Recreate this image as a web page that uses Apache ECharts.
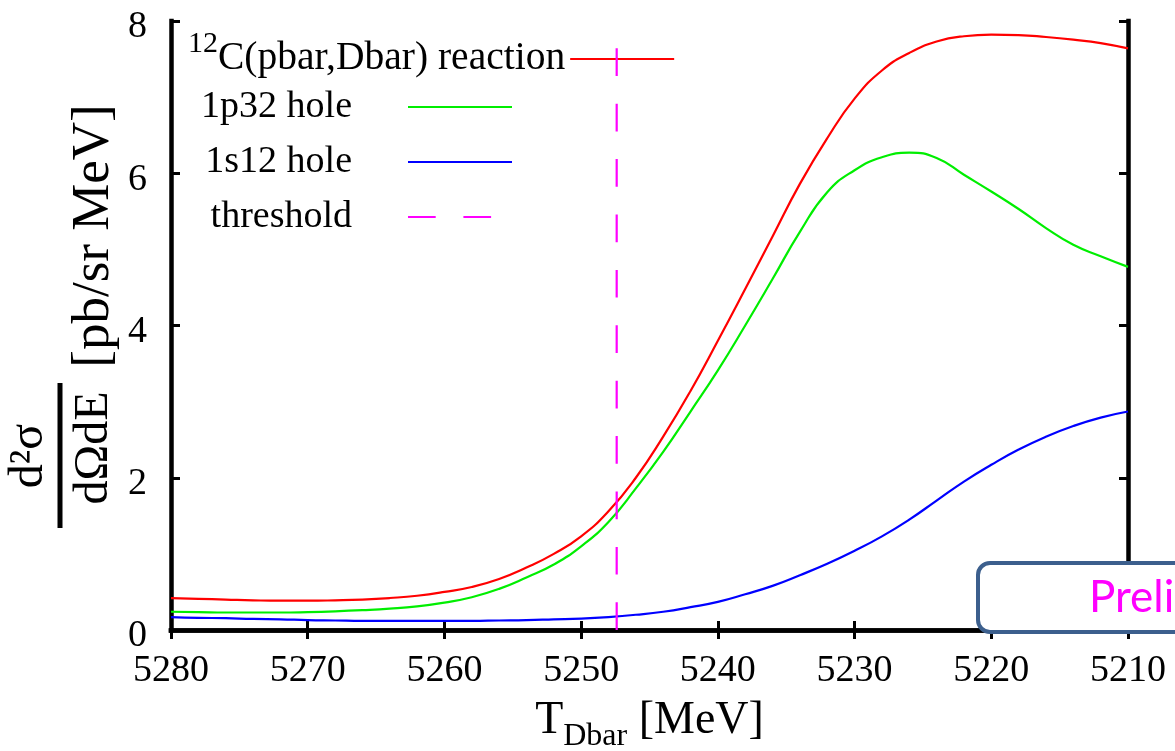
<!DOCTYPE html>
<html>
<head>
<meta charset="utf-8">
<script src="https://cdn.jsdelivr.net/npm/echarts@6/dist/echarts.min.js"></script>
<style>html,body{margin:0;padding:0;background:#fff}#c{width:1175px;height:751px}</style>
</head>
<body>
<div id="c"></div>
<script>
// ---- data ----
const energy = [5280, 5278, 5276, 5274, 5272, 5270, 5268, 5266, 5264, 5262, 5260, 5258, 5256, 5254, 5252, 5250, 5248, 5246, 5244, 5242, 5240, 5238, 5236, 5234, 5232, 5230, 5228, 5226, 5224, 5222, 5220, 5218, 5216, 5214, 5212, 5210];
const reaction = [0.42, 0.41, 0.40, 0.39, 0.385, 0.385, 0.39, 0.40, 0.42, 0.45, 0.50, 0.565, 0.67, 0.82, 1.00, 1.23, 1.56, 2.00, 2.54, 3.14, 3.80, 4.48, 5.17, 5.86, 6.46, 6.98, 7.35, 7.58, 7.73, 7.80, 7.82, 7.815, 7.79, 7.755, 7.71, 7.64];
const hole1p32 = [0.24, 0.235, 0.23, 0.23, 0.23, 0.235, 0.245, 0.26, 0.28, 0.31, 0.36, 0.43, 0.54, 0.69, 0.86, 1.10, 1.42, 1.86, 2.34, 2.87, 3.41, 4.00, 4.61, 5.23, 5.75, 6.04, 6.21, 6.27, 6.20, 5.98, 5.76, 5.53, 5.28, 5.06, 4.91, 4.77];
const hole1s12 = [0.17, 0.16, 0.155, 0.145, 0.14, 0.13, 0.125, 0.12, 0.12, 0.12, 0.12, 0.12, 0.125, 0.13, 0.14, 0.15, 0.17, 0.20, 0.24, 0.30, 0.37, 0.47, 0.58, 0.72, 0.87, 1.04, 1.23, 1.45, 1.70, 1.95, 2.17, 2.37, 2.54, 2.68, 2.79, 2.87];
const thresholdEnergy = [5247.4, 5247.4];
const thresholdLevel = [0, 8];
const seriesNames = ['12C(pbar,Dbar) reaction', '1p32 hole', '1s12 hole', 'threshold'];

const serif = 'Liberation Serif';
const pair = (xs, ys) => xs.map((x, i) => [x, ys[i]]);

const chart = echarts.init(document.getElementById('c'), null, {renderer: 'canvas'});

const axisLine = {lineStyle: {color: '#000', width: 4.5, cap: 'square'}};
const axisTick = {inside: true, length: 9, lineStyle: {color: '#000', width: 3}};
const tickLabel = (v) => String(v);

chart.setOption({
  animation: false,
  backgroundColor: '#fff',
  textStyle: {fontFamily: serif, color: '#000'},
  grid: {left: 171, right: 47, top: 21, bottom: 121, containLabel: false, outerBoundsMode: 'none'},
  xAxis: [{
    type: 'value', min: 5210, max: 5280, interval: 10, inverse: true, position: 'bottom',
    axisLine: axisLine, axisTick: axisTick, splitLine: {show: false},
    axisLabel: {formatter: tickLabel, margin: 21, showMinLabel: true, showMaxLabel: true,
      fontFamily: serif, fontSize: 38, lineHeight: 40, color: '#000'},
    name: '{t|T}{s|Dbar}{t| [MeV]}', nameLocation: 'middle', nameGap: 68, nameMoveOverlap: false,
    nameTextStyle: {rich: {
      t: {fontFamily: serif, fontSize: 46, lineHeight: 46, verticalAlign: 'top', color: '#000'},
      s: {fontFamily: serif, fontSize: 32, lineHeight: 78, color: '#000'}
    }}
  }, {
    type: 'value', min: 5210, max: 5280, interval: 10, inverse: true, position: 'top',
    axisLine: axisLine, axisTick: axisTick, splitLine: {show: false}, axisLabel: {show: false}
  }],
  yAxis: [{
    type: 'value', min: 0, max: 8, interval: 2, position: 'left',
    axisLine: axisLine, axisTick: axisTick, splitLine: {show: false},
    axisLabel: {formatter: tickLabel, margin: 24, verticalAlign: 'top', lineHeight: 13,
      fontFamily: serif, fontSize: 38, color: '#000'}
  }, {
    type: 'value', min: 0, max: 8, interval: 2, position: 'right',
    axisLine: axisLine, axisTick: axisTick, splitLine: {show: false}, axisLabel: {show: false}
  }],
  legend: [{
    data: [seriesNames[0]], left: 188, top: 29, padding: 0, orient: 'vertical', align: 'right',
    itemWidth: 104, itemHeight: 14, selectedMode: false, itemStyle: {opacity: 0},
    formatter: (name) => '{sup|12}{m|' + name.replace(/^12/, '') + '}',
    textStyle: {rich: {
      sup: {fontFamily: serif, fontSize: 30, lineHeight: 20, verticalAlign: 'top', color: '#000'},
      m: {fontFamily: serif, fontSize: 39.5, lineHeight: 60, color: '#000'}
    }}
  }, {
    data: seriesNames.slice(1), left: 200, top: 87, padding: 0, orient: 'vertical', align: 'right',
    itemWidth: 104, itemHeight: 14, itemGap: 15, selectedMode: false, itemStyle: {opacity: 0},
    textStyle: {fontFamily: serif, fontSize: 38, lineHeight: 40, color: '#000', width: 152, align: 'right', padding: [0, 51, 0, 0]}
  }],
  series: [{
    type: 'line', name: seriesNames[0], data: pair(energy, reaction), symbol: 'none', smooth: 0.5,
    lineStyle: {color: '#ff0000', width: 2.2}, itemStyle: {color: '#ff0000'}, z: 3
  }, {
    type: 'line', name: seriesNames[1], data: pair(energy, hole1p32), symbol: 'none', smooth: 0.5,
    lineStyle: {color: '#00ee00', width: 2.2}, itemStyle: {color: '#00ee00'}, z: 3
  }, {
    type: 'line', name: seriesNames[2], data: pair(energy, hole1s12), symbol: 'none', smooth: 0.5,
    lineStyle: {color: '#0000ff', width: 2.2}, itemStyle: {color: '#0000ff'}, z: 3
  }, {
    type: 'line', name: seriesNames[3], data: pair(thresholdEnergy, thresholdLevel), symbol: 'none',
    lineStyle: {color: '#ff00ff', width: 2.2, type: [27.7, 27.7]}, itemStyle: {color: '#ff00ff'}, z: 6
  }],
  graphic: {elements: [
    {type: 'text', x: 29, y: 456, rotation: Math.PI / 2,
     style: {text: 'd²σ', fontFamily: serif, fontSize: 48, fill: '#000', align: 'center', verticalAlign: 'middle'}},
    {type: 'line', shape: {x1: 60, y1: 383, x2: 60, y2: 528}, style: {stroke: '#000', lineWidth: 5}},
    {type: 'text', x: 94, y: 448, rotation: Math.PI / 2,
     style: {text: 'dΩdE', fontFamily: serif, fontSize: 48, fill: '#000', align: 'center', verticalAlign: 'middle'}},
    {type: 'text', x: 94, y: 236, rotation: Math.PI / 2,
     style: {text: '[pb/sr MeV]', fontFamily: serif, fontSize: 53, fill: '#000', align: 'center', verticalAlign: 'middle'}},
    {type: 'rect', z: 100, shape: {x: 978, y: 563, width: 260, height: 69, r: 12},
     style: {fill: '#fff', stroke: '#3c5f8d', lineWidth: 4}},
    {type: 'text', z: 101, x: 1089, y: 598,
     style: {text: 'Preli', fontFamily: 'Lato', fontSize: 44, fill: '#ff00ff', align: 'left', verticalAlign: 'middle'}}
  ]}
});
</script>
</body>
</html>
